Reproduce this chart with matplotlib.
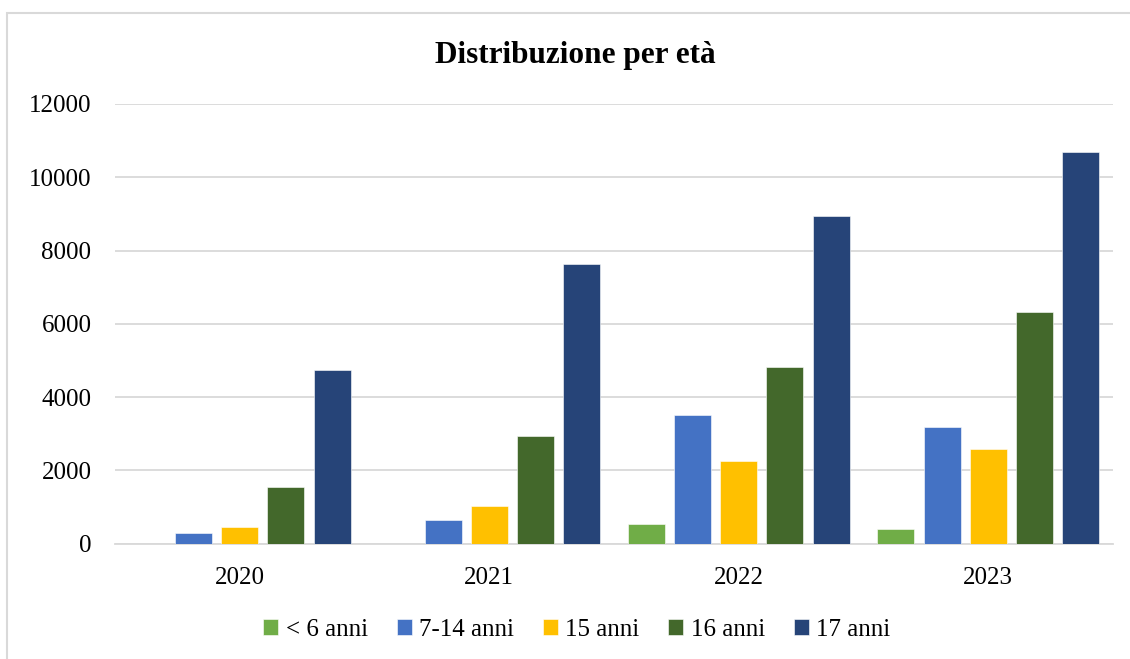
import matplotlib
matplotlib.use("Agg")
from matplotlib import pyplot as plt
from matplotlib.patches import Rectangle
import numpy as np

# dati per anno e fascia d'età
anni = ["2020", "2021", "2022", "2023"]
fasce = ["< 6 anni", "7-14 anni", "15 anni", "16 anni", "17 anni"]
meno_6 = [0, 0, 537, 401]
da_7_a_14 = [300, 638, 3510, 3174]
anni_15 = [447, 1037, 2255, 2583]
anni_16 = [1546, 2928, 4819, 6327]
anni_17 = [4728, 7623, 8929, 10701]
serie = [meno_6, da_7_a_14, anni_15, anni_16, anni_17]
colori = ["#70AD47", "#4472C4", "#FFC000", "#43682B", "#264478"]

plt.rcParams['font.family'] = ['Liberation Serif', 'DejaVu Serif']

W, H = 1130, 659
fig = plt.figure(figsize=(W / 100, H / 100), dpi=100)

# cornice grigia del grafico
fig.patches.append(Rectangle((7 / W, -0.1), 1.2, 1 - 13 / H + 0.1,
                             transform=fig.transFigure, fill=False,
                             edgecolor="#D9D9D9", linewidth=1.5))

ax = fig.add_axes([115 / W, 1 - 543.5 / H, (1113 - 115) / W, (543.5 - 104) / H])

x = np.arange(len(anni))
passo = 0.185
larg = 0.148
for i, (vals, nome, col) in enumerate(zip(serie, fasce, colori)):
    ax.bar(x + (i - 2) * passo, vals, larg, color=col, label=nome,
           edgecolor="white", linewidth=0.4, zorder=3)

ax.set_xlim(-0.5, 3.5)
ax.set_ylim(0, 12000)
ax.set_yticks(range(0, 12001, 2000))
ax.set_xticks(x)
ax.set_xticklabels(anni)
ax.tick_params(axis="both", length=0, labelsize=18, colors="#000000")
ax.tick_params(axis="y", pad=17)
ax.tick_params(axis="x", pad=17)
ax.grid(axis="y", color="#D9D9D9", linewidth=1.3, zorder=0)
for s in ["top", "right", "left"]:
    ax.spines[s].set_visible(False)
ax.spines["bottom"].set_color("#D9D9D9")
ax.spines["bottom"].set_linewidth(1.3)

fig.text(575 / W, 1 - 56 / H, "Distribuzione per età", ha="center", va="center",
         fontsize=22.5, fontweight="bold")

fig.legend(loc="center", bbox_to_anchor=(577 / W, 1 - 630 / H), ncol=5,
           frameon=False, fontsize=18, handlelength=0.6, handleheight=0.6,
           handletextpad=0.3, columnspacing=1.15)

fig.savefig("out.png", dpi=100)
